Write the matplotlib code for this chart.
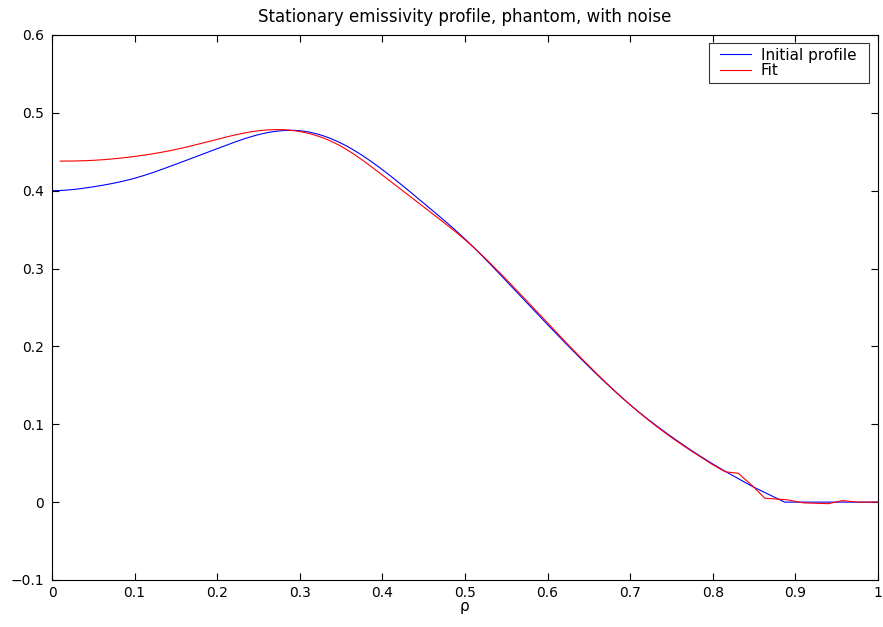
import numpy as np
import matplotlib
matplotlib.use("Agg")
import matplotlib.pyplot as plt
from matplotlib.legend_handler import HandlerLine2D

plt.rcParams['font.family'] = ['DejaVu Sans']

# Initial profile
rho_init = [0.0, 0.05, 0.1, 0.15, 0.2, 0.25, 0.3, 0.35, 0.4, 0.45, 0.5,
            0.55, 0.6, 0.65, 0.7, 0.75, 0.8, 0.85, 0.887, 0.9, 0.95, 1.0]
val_init = [0.400, 0.405, 0.416, 0.434, 0.454, 0.472, 0.477, 0.461, 0.427,
            0.384, 0.338, 0.284, 0.228, 0.174, 0.125, 0.084, 0.049, 0.019, 0.0,
            0.0, 0.0, 0.0]

# Fit
rho_fit = [0.01, 0.05, 0.1, 0.15, 0.2, 0.25, 0.3, 0.35, 0.4, 0.45, 0.5,
           0.55, 0.6, 0.65, 0.7, 0.75, 0.8, 0.815, 0.831, 0.849, 0.863, 0.89,
           0.91, 0.94, 0.957, 0.975, 1.0]
val_fit = [0.438, 0.439, 0.444, 0.453, 0.466, 0.477, 0.476, 0.457, 0.420,
           0.379, 0.337, 0.286, 0.230, 0.175, 0.125, 0.083, 0.048, 0.039, 0.037,
           0.020, 0.005, 0.003, -0.001, -0.002, 0.002, 0.0, 0.0]


def spline(x, y, n=400, slope0=0.0):
    """Cubic spline, clamped slope at start, natural at end."""
    x = np.asarray(x, float); y = np.asarray(y, float)
    N = len(x); h = np.diff(x)
    A = np.zeros((N, N)); b = np.zeros(N)
    A[0, 0] = 2*h[0]; A[0, 1] = h[0]
    b[0] = 6*((y[1]-y[0])/h[0] - slope0)
    for i in range(1, N-1):
        A[i, i-1] = h[i-1]; A[i, i] = 2*(h[i-1]+h[i]); A[i, i+1] = h[i]
        b[i] = 6*((y[i+1]-y[i])/h[i] - (y[i]-y[i-1])/h[i-1])
    A[-1, -1] = 1.0
    M = np.linalg.solve(A, b)
    xs = np.linspace(x[0], x[-1], n)
    k = np.clip(np.searchsorted(x, xs) - 1, 0, N-2)
    t1 = x[k+1] - xs; t0 = xs - x[k]
    ys = (M[k]*t1**3 + M[k+1]*t0**3)/(6*h[k]) \
        + (y[k]/h[k] - M[k]*h[k]/6)*t1 + (y[k+1]/h[k] - M[k+1]*h[k]/6)*t0
    return xs, ys


fig = plt.figure(figsize=(8.83, 6.27), dpi=100)
ax = fig.add_axes([0.0589, 0.0750, 0.9354, 0.8692])

cb = rho_init.index(0.85)
xb, yb = spline(rho_init[:cb+1], val_init[:cb+1])
xb = np.concatenate([xb, rho_init[cb+1:]])
yb = np.concatenate([yb, val_init[cb+1:]])
ax.plot(xb, yb, color='#0000ff', lw=0.8, label='Initial profile')

cr = rho_fit.index(0.8)
xr, yr = spline(rho_fit[:cr+1], val_fit[:cr+1])
xr = np.concatenate([xr, rho_fit[cr+1:]])
yr = np.concatenate([yr, val_fit[cr+1:]])
ax.plot(xr, yr, color='#ff0000', lw=0.8, label='Fit')

ax.set_xlim(0, 1)
ax.set_ylim(-0.1, 0.6)
ax.set_xticks(np.arange(0, 1.01, 0.1))
ax.set_xticklabels(['0', '0.1', '0.2', '0.3', '0.4', '0.5', '0.6', '0.7', '0.8', '0.9', '1'])
ax.set_yticks(np.arange(-0.1, 0.61, 0.1))
ax.set_yticklabels(['\u22120.1', '0', '0.1', '0.2', '0.3', '0.4', '0.5', '0.6'])
ax.tick_params(direction='in', length=5, width=0.8, top=True, right=True,
               labelsize=10)
ax.tick_params(axis='y', pad=5.5)
ax.tick_params(axis='x', pad=4.5)
for s in ax.spines.values():
    s.set_linewidth(0.8)
ax.set_title('Stationary emissivity profile, phantom, with noise', fontsize=12, pad=9)
ax.set_xlabel('\u03c1', fontsize=11, labelpad=-1)

hl = HandlerLine2D(xpad=0.45)
leg = ax.legend(loc='upper left', bbox_to_anchor=(0.7954, 0.8853, 0.1937, 0.1),
                mode='expand', fontsize=11, frameon=True, fancybox=False,
                edgecolor='black', borderpad=0.3, handlelength=2.45,
                handletextpad=0.65, labelspacing=0.05, borderaxespad=0.0,
                handler_map={ln: hl for ln in ax.get_lines()})
leg.get_frame().set_linewidth(0.8)

fig.savefig('out.png', dpi=100)
